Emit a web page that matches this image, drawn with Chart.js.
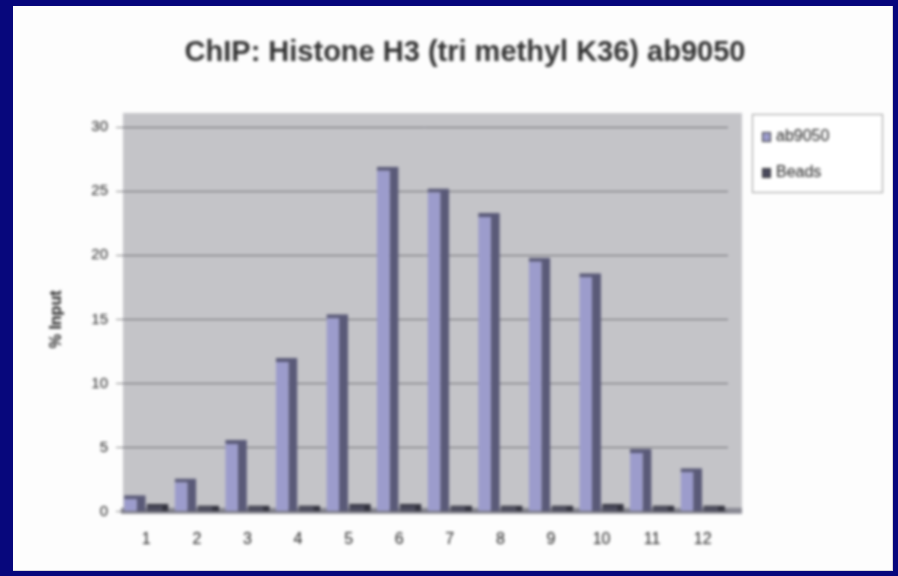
<!DOCTYPE html>
<html>
<head>
<meta charset="utf-8">
<script src="https://cdn.jsdelivr.net/npm/chart.js@4.4.1/dist/chart.umd.min.js"></script>
<style>
  html, body { margin: 0; padding: 0; }
  body { width: 898px; height: 576px; background: #07077c; position: relative; overflow: hidden; }
  #frame { position: absolute; left: 13px; top: 6px; width: 879px; height: 564px; background: #fdfdfd; border-right: 1px solid #d8d8d8; border-bottom: 1px solid #d8d8d8; }
  #frame canvas { filter: blur(1.7px); }
</style>
</head>
<body>
<div id="frame"><canvas id="c" width="879" height="564"></canvas></div>
<script>
// ChIP enrichment per primer set, % of input
const categories = ['1', '2', '3', '4', '5', '6', '7', '8', '9', '10', '11', '12'];
const antibodyValues = [1.3, 2.6, 5.6, 12.0, 15.4, 26.9, 25.2, 23.3, 19.8, 18.6, 4.9, 3.4];
const beadsValues = [0.6, 0.5, 0.5, 0.5, 0.6, 0.6, 0.5, 0.5, 0.5, 0.6, 0.5, 0.5];
const seriesNames = ['ab9050', 'Beads'];
const yTicks = [0, 5, 10, 15, 20, 25, 30];
const chartTitle = 'ChIP: Histone H3 (tri methyl K36) ab9050';
const yTitle = '% Input';

const FONT = 'Arial, "Liberation Sans", sans-serif';
const seriesColors = ['#9c9ccc', '#4a4a5c'];

// title, grey wall and floor behind the plot, plus the legend box on the right
const decor = {
  id: 'decor',
  beforeDraw(chart) {
    const { ctx, chartArea: a } = chart;
    ctx.save();
    ctx.fillStyle = '#c4c4c8';
    ctx.fillRect(a.left + 2, a.top - 14, a.right - a.left + 12, a.bottom - a.top + 14);
    ctx.fillStyle = '#8a8a94';
    ctx.fillRect(a.left, a.bottom - 4, a.right - a.left + 14, 6);
    ctx.fillStyle = '#333333';
    ctx.font = 'bold 29px ' + FONT;
    ctx.textAlign = 'center';
    ctx.textBaseline = 'middle';
    ctx.fillText(chartTitle, 452, 47);
    ctx.restore();
  },
  afterDraw(chart) {
    const { ctx } = chart;
    const x = 739, y = 108, w = 130, h = 78;
    ctx.save();
    ctx.fillStyle = '#ffffff';
    ctx.strokeStyle = '#9a9a9a';
    ctx.lineWidth = 1;
    ctx.fillRect(x, y, w, h);
    ctx.strokeRect(x + 0.5, y + 0.5, w, h);
    ctx.font = '16px ' + FONT;
    ctx.textBaseline = 'middle';
    seriesNames.forEach((name, i) => {
      const yy = y + 23 + i * 36;
      ctx.fillStyle = seriesColors[i];
      ctx.fillRect(x + 10, yy - 5, 9, 10);
      ctx.strokeStyle = '#333';
      ctx.strokeRect(x + 10.5, yy - 4.5, 8, 9);
      ctx.fillStyle = '#222';
      ctx.fillText(name, x + 24, yy);
    });
    ctx.restore();
  }
};

new Chart(document.getElementById('c'), {
  type: 'bar',
  data: {
    labels: categories,
    datasets: [
      {
        label: seriesNames[0],
        data: antibodyValues,
        backgroundColor: seriesColors[0],
        borderColor: '#5a5a78',
        borderWidth: { top: 4, right: 9, left: 0, bottom: 0 },
        borderSkipped: false,
        categoryPercentage: 0.9,
        barPercentage: 0.95
      },
      {
        label: seriesNames[1],
        data: beadsValues,
        backgroundColor: seriesColors[1],
        borderColor: '#33333f',
        borderWidth: { top: 2, right: 7, left: 0, bottom: 0 },
        borderSkipped: false,
        categoryPercentage: 0.9,
        barPercentage: 0.95
      }
    ]
  },
  options: {
    responsive: false,
    animation: false,
    layout: { padding: { left: 30, right: 164, top: 121, bottom: 11 } },
    plugins: {
      legend: { display: false },
      tooltip: { enabled: false },
      title: { display: false }
    },
    scales: {
      x: {
        grid: { display: false },
        border: { display: false },
        ticks: { color: '#222', font: { family: FONT, size: 16 }, padding: 10 }
      },
      y: {
        min: 0,
        max: 30,
        afterBuildTicks(scale) { scale.ticks = yTicks.map(v => ({ value: v })); },
        afterFit(scale) { scale.width = 78; },
        grid: { color: '#6a6a70', lineWidth: 1, drawTicks: true, tickLength: 5, tickColor: '#888' },
        border: { display: false },
        ticks: { color: '#222', font: { family: FONT, size: 15 }, padding: 8 },
        title: {
          display: true,
          text: yTitle,
          color: '#222',
          font: { family: FONT, size: 16, weight: 'bold' },
          padding: { bottom: 0 }
        }
      }
    }
  },
  plugins: [decor]
});
</script>
</body>
</html>
